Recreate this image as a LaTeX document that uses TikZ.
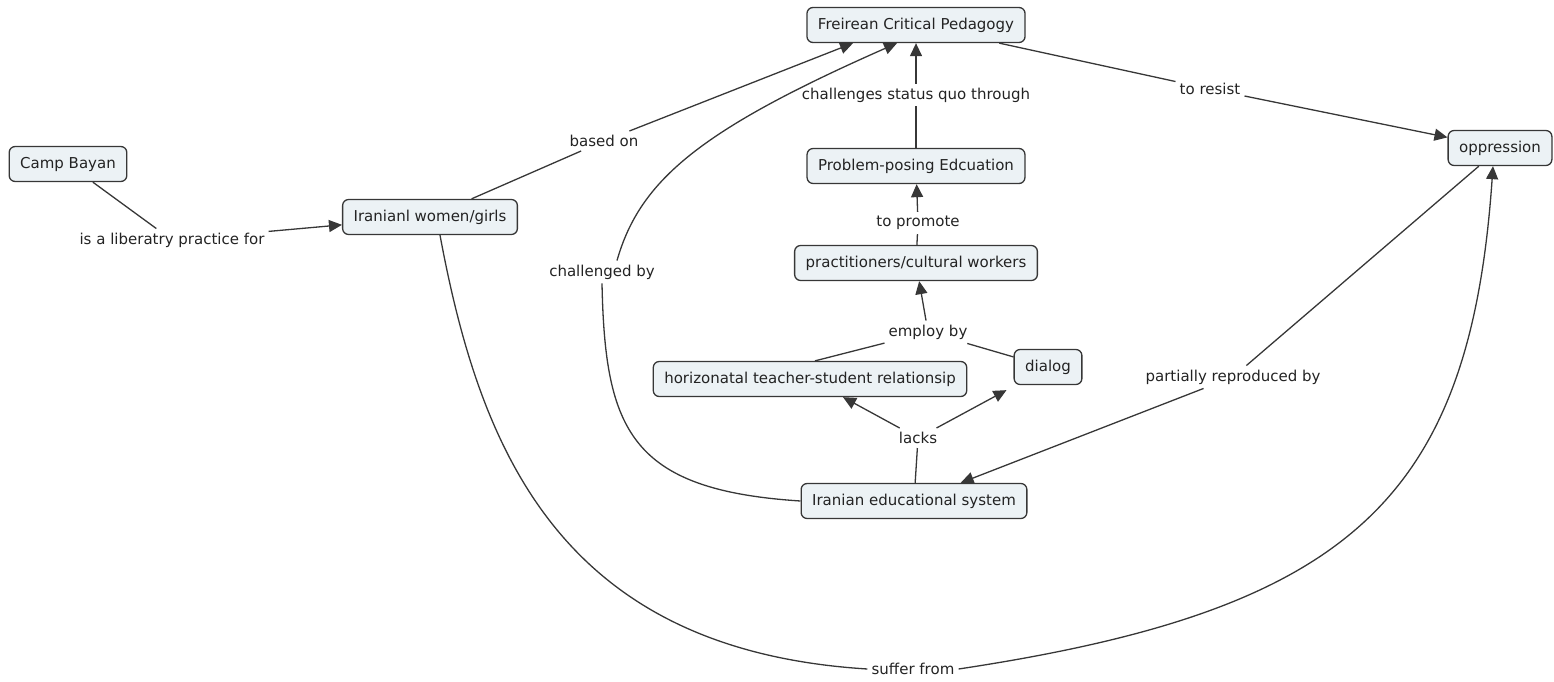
\documentclass[tikz,border=0pt]{standalone}
\usepackage{fontspec}
\setmainfont{DejaVu Sans}
\usepackage{xcolor}
\usepackage{tikz}
\usetikzlibrary{arrows.meta,calc}
\definecolor{cmapfill}{RGB}{236,242,245}
\definecolor{cmapline}{RGB}{55,55,55}
\definecolor{cmaptext}{RGB}{35,35,35}

\begin{document}
\begin{tikzpicture}[x=1pt,y=-1pt,>={Triangle[length=13pt,width=12pt]},
  font=\fontsize{15}{18}\selectfont,text=cmaptext,
  concept/.style={draw=cmapline,fill=cmapfill,rounded corners=6pt,line width=1.3pt,
    inner xsep=11pt,minimum height=35pt},
  phrase/.style={inner sep=4pt},
  link/.style={draw=cmapline,line width=1.3pt}]
  \useasboundingbox (0,0) rectangle (1554,682);
  % concepts
  \node[concept] (camp) at (68,164) {Camp Bayan};
  \node[concept] (women) at (430,217) {Iranianl women/girls};
  \node[concept] (fcp) at (916,25) {Freirean Critical Pedagogy};
  \node[concept] (opp) at (1500,148) {oppression};
  \node[concept] (ppe) at (916,166) {Problem-posing Edcuation};
  \node[concept] (prac) at (916,263) {practitioners/cultural workers};
  \node[concept] (horiz) at (810,379) {horizonatal teacher-student relationsip};
  \node[concept] (dialog) at (1048,367) {dialog};
  \node[concept] (edu) at (914,501) {Iranian educational system};
  % linking phrases
  \node[phrase] (libp) at (172,240) {is a liberatry practice for};
  \node[phrase] (based) at (604,141) {based on};
  \node[phrase] (resist) at (1210,89) {to resist};
  \node[phrase] (chal) at (916,95) {challenges status quo through};
  \node[phrase] (promote) at (918,223) {to promote};
  \node[phrase] (employ) at (928,332) {employ by};
  \node[phrase] (lacks) at (918,438) {lacks};
  \node[phrase] (chby) at (602,272) {challenged by};
  \node[phrase] (partly) at (1233,377) {partially reproduced by};
  \node[phrase] (suffer) at (913,669) {suffer from};
  % connectors
  \draw[link] (camp) -- (libp);
  \draw[link,->] (libp) -- (women);
  \draw[link] (women) -- (based);
  \draw[link,->] (based) -- ($(fcp.south)+(-63,0)$);
  \draw[link] (fcp) -- (resist);
  \draw[link,->] (resist) -- (opp);
  \draw[link] (ppe) -- (chal);
  \draw[link,->] (chal) -- (fcp);
  \draw[link] (prac) -- (promote);
  \draw[link,->] (promote) -- (ppe);
  \draw[link] ($(horiz.north)+(5,0)$) -- (employ);
  \draw[link] (dialog) -- (employ);
  \draw[link,->] (employ) -- (prac);
  \draw[link] (edu) -- (lacks);
  \draw[link,->] (lacks) -- ($(horiz.south)+(33,0)$);
  \draw[link,->] (lacks) -- ($(dialog.south west)+(-7,5)$);
  \draw[link] (opp) -- (partly);
  \draw[link,->] (partly) -- (edu);
  \draw[link] (edu.west) .. controls (630,490) and (605,430) .. (chby.south);
  \draw[link,->] ($(chby.north)+(15,0)$) .. controls (640,180) and (700,130) .. ($(fcp.south)+(-19,0)$);
  \draw[link] ($(women.south)+(10,0)$) .. controls (480,450) and (560,650) .. (suffer.west);
  \draw[link,->] (suffer.east) .. controls (1350,610) and (1470,500) .. ($(opp.south)+(-7,0)$);
\end{tikzpicture}
\end{document}
